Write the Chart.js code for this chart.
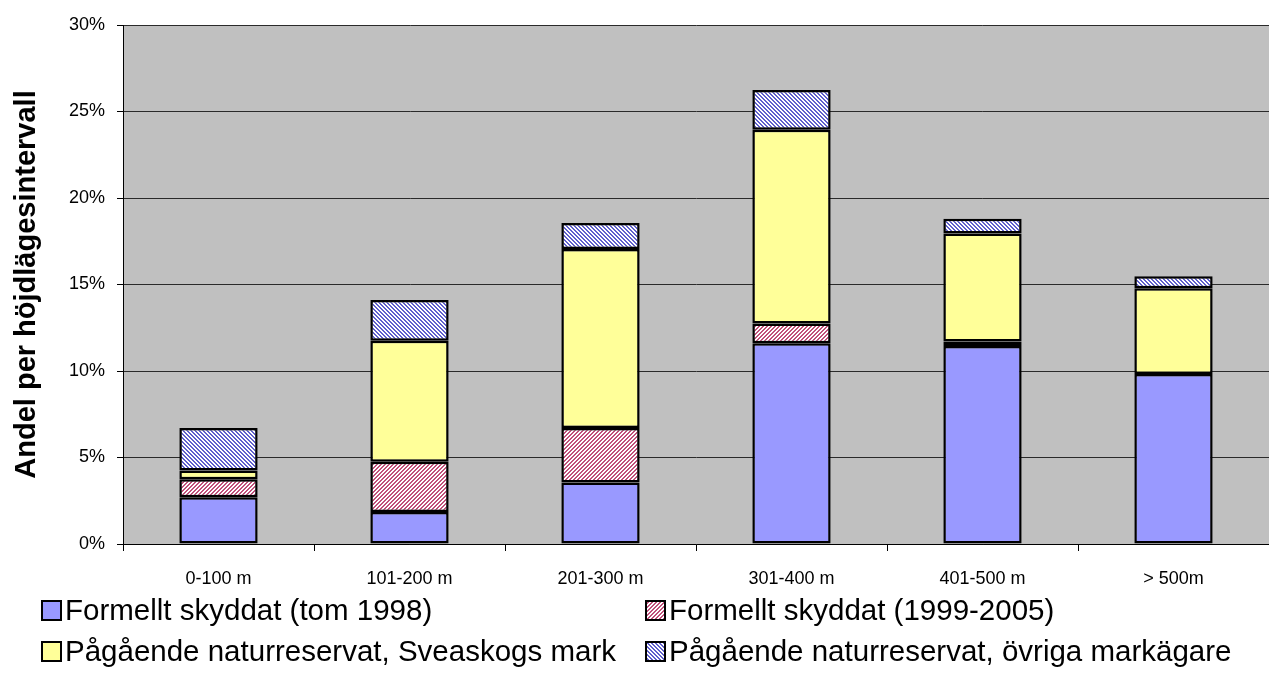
<!DOCTYPE html>
<html><head><meta charset="utf-8">
<script src="https://cdn.jsdelivr.net/npm/chart.js@4"></script>
<style>
html,body{margin:0;padding:0;background:#fff;}
#wrap{position:relative;width:1269px;height:678px;overflow:hidden;}
#c{position:absolute;left:0;top:0;}
.lg{position:absolute;font-family:"Liberation Sans",Arial,sans-serif;font-size:29.5px;color:#000;white-space:nowrap;display:flex;align-items:center;line-height:1;}
.lg canvas{margin-right:3px;display:block;}
</style></head>
<body><div id="wrap"><canvas id="c" width="1269" height="678"></canvas><div id="legend"></div></div>
<script>
const categories = ["0-100 m", "101-200 m", "201-300 m", "301-400 m", "401-500 m", "> 500m"];
const seriesNames = ["Formellt skyddat (tom 1998)", "Formellt skyddat (1999-2005)", "Pågående naturreservat, Sveaskogs mark", "Pågående naturreservat, övriga markägare"];
const skyddatTom1998 = [2.7, 1.85, 3.55, 11.6, 11.45, 9.83];
const skyddat1999_2005 = [1.05, 2.9, 3.15, 1.15, 0.25, null];
const sveaskogsMark = [0.5, 7.0, 10.35, 11.2, 6.25, 4.95];
const ovrigaMarkagare = [2.45, 2.35, 1.5, 2.3, 0.85, 0.7];
const yTickValues = [0, 5, 10, 15, 20, 25, 30];
const yAxisTitle = "Andel per höjdlägesintervall";

const FONT = '"Liberation Sans", Arial, sans-serif';

function makePattern(fg, dir) {
  const t = document.createElement('canvas');
  t.width = 4; t.height = 4;
  const g = t.getContext('2d');
  g.fillStyle = '#ffffff'; g.fillRect(0, 0, 4, 4);
  g.fillStyle = fg;
  for (let y = 0; y < 4; y++) for (let x = 0; x < 4; x++) {
    const k = dir === 'up' ? (x + y) % 4 : (x - y + 8) % 4;
    if (k === 0 || k === 1) g.fillRect(x, y, 1, 1);
  }
  return g.createPattern(t, 'repeat');
}
const ctx = document.getElementById('c').getContext('2d');
const redPat = makePattern('#C0507A', 'up');
const bluePat = makePattern('#6060CC', 'down');
const fills = ['#9999FF', redPat, '#FFFF99', bluePat];
const seriesData = [skyddatTom1998, skyddat1999_2005, sveaskogsMark, ovrigaMarkagare];

const bgPlugin = {
  id: 'plotBg',
  beforeDraw(chart) {
    const a = chart.chartArea, c = chart.ctx;
    c.save(); c.fillStyle = '#C0C0C0';
    c.fillRect(a.left, a.top, a.right - a.left, a.bottom - a.top);
    c.restore();
  }
};

new Chart(ctx, {
  type: 'bar',
  data: {
    labels: categories,
    datasets: seriesNames.map((n, i) => ({
      label: n,
      data: seriesData[i],
      backgroundColor: fills[i],
      borderColor: '#000',
      borderWidth: 2.5,
      borderSkipped: false,
      categoryPercentage: 1,
      barPercentage: 0.41
    }))
  },
  options: {
    responsive: false,
    animation: false,
    layout: { padding: { top: 25, right: 0, left: 0, bottom: 0 } },
    plugins: { legend: { display: false }, tooltip: { enabled: false } },
    scales: {
      x: {
        stacked: true,
        ticks: { color: '#000', font: { family: FONT, size: 18 }, padding: 17, maxRotation: 0 },
        grid: { offset: true, drawOnChartArea: false, drawTicks: true, tickLength: 7, tickColor: '#000' },
        border: { color: '#000', width: 1 },
        afterFit(s) { s.height = 134; }
      },
      y: {
        stacked: true, min: 0, max: 30,
        afterBuildTicks(s) { s.ticks = yTickValues.map(v => ({ value: v })); },
        ticks: { color: '#000', font: { family: FONT, size: 18 }, padding: 12, callback: v => v + '%' },
        grid: { color: '#2a2a2a', lineWidth: 1, tickLength: 6, tickColor: '#000' },
        border: { color: '#000', width: 1 },
        title: { display: true, text: yAxisTitle, color: '#000', font: { family: FONT, size: 29, weight: 'bold' }, padding: { top: 10, bottom: 0 } },
        afterFit(s) { s.width = 123; }
      }
    }
  },
  plugins: [bgPlugin]
});

// HTML legend
const legend = document.getElementById('legend');
const pos = [[41, 610], [645, 610], [41, 651], [645, 651]];
seriesNames.forEach((n, i) => {
  const d = document.createElement('div');
  d.className = 'lg';
  d.style.left = pos[i][0] + 'px';
  d.style.top = (pos[i][1] - 17) + 'px';
  d.style.height = '34px';
  const sw = document.createElement('canvas');
  sw.width = 21; sw.height = 21;
  const g = sw.getContext('2d');
  g.fillStyle = '#000'; g.fillRect(0, 0, 21, 21);
  g.fillStyle = fills[i]; g.fillRect(2, 2, 17, 17);
  d.appendChild(sw);
  const s = document.createElement('span');
  s.textContent = n;
  d.appendChild(s);
  legend.appendChild(d);
});
</script>
</body></html>
